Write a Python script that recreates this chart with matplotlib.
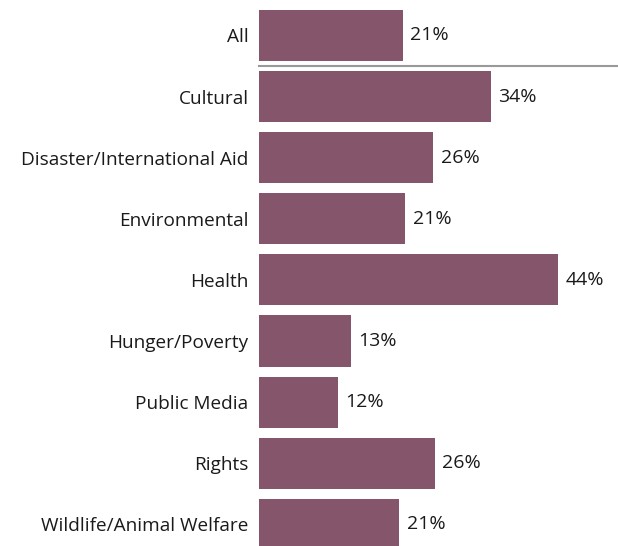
import matplotlib
matplotlib.use("Agg")
import matplotlib.pyplot as plt

categories = ["All", "Cultural", "Disaster/International Aid", "Environmental", "Health",
              "Hunger/Poverty", "Public Media", "Rights", "Wildlife/Animal Welfare"]
values = [21.05, 33.9, 25.45, 21.35, 43.7, 13.45, 11.55, 25.7, 20.5]
value_labels = ["21%", "34%", "26%", "21%", "44%", "13%", "12%", "26%", "21%"]

BAR_COLOR = "#85556B"
TEXT_COLOR = "#1a1a1a"
plt.rcParams['font.family'] = ['Open Sans', 'DejaVu Sans']

XMAX = 52.5
fig = plt.figure(figsize=(6.18, 5.46), dpi=100)
ax = fig.add_axes([259/618, 0, 1 - 259/618, 1])
ypos = list(range(len(categories)))
ax.barh(ypos, values, height=0.835, color=BAR_COLOR)
ax.set_ylim(8.355, -0.581)
ax.set_xlim(0, XMAX)
for y, v, lab in zip(ypos, values, value_labels):
    ax.text(v + 1.1, y, lab, va="center", ha="left", fontsize=14, color=TEXT_COLOR)
ax.set_yticks(ypos)
ax.set_yticklabels(categories, fontsize=13.7, color=TEXT_COLOR)
ax.tick_params(axis="y", length=0, pad=7.5)
ax.set_xticks([])
for s in ax.spines.values():
    s.set_visible(False)
ax.plot([0, XMAX], [0.5, 0.5], color="#999999", lw=1.5, clip_on=False)
fig.savefig("out.png", dpi=100)
